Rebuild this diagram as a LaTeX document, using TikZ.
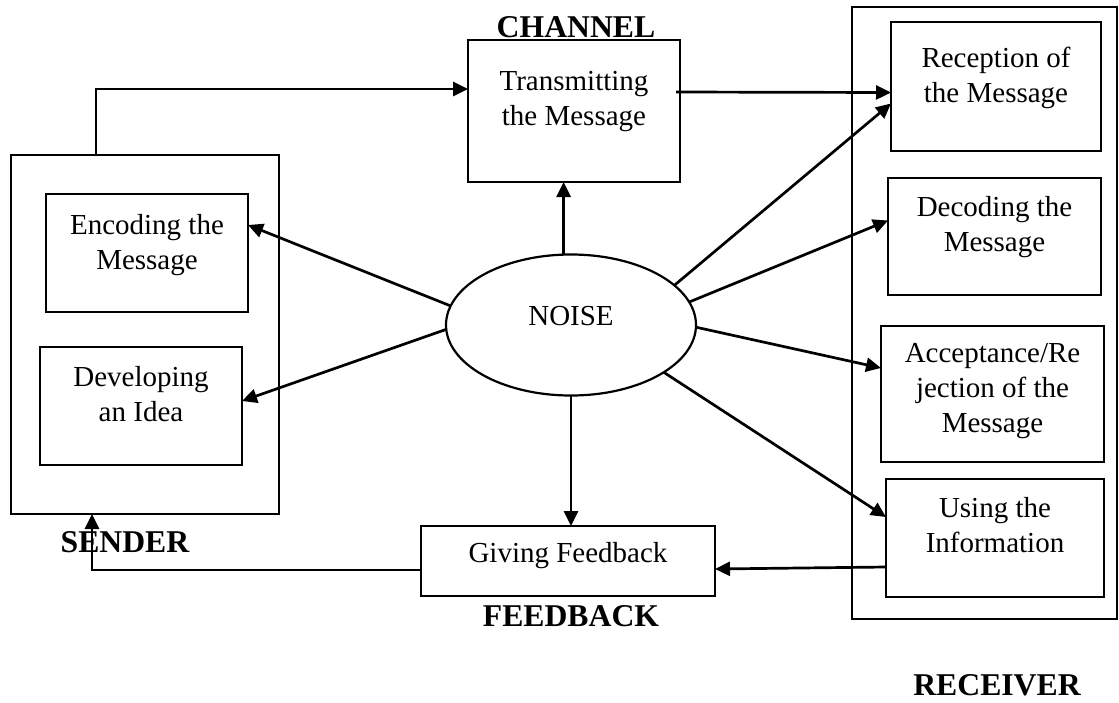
\documentclass[tikz,border=0pt]{standalone}
\usepackage{fontspec}
\setmainfont{Liberation Serif}
\usetikzlibrary{arrows.meta}
\usetikzlibrary{shapes.geometric}
\usetikzlibrary{positioning}
\tikzstyle{stage}=[draw, line width=2.7pt, inner sep=0, outer sep=0]
\tikzstyle{stagetext}=[align=center, anchor=north, inner sep=0, font=\fontsize{29}{35}\selectfont]
\tikzstyle{party}=[anchor=base, inner sep=0, font=\bfseries\fontsize{31.7}{38}\selectfont]
\tikzstyle{flow}=[line width=2.7pt, -{Triangle[length=15pt, width=14pt]}]

\begin{document}
\begin{tikzpicture}[x=1pt, y=-1pt]
        \useasboundingbox (0,0) rectangle (1119,702);
        % sender side
        \node[stage, minimum width=268pt, minimum height=359pt] (sender) at (145,334.5) {};
        \node[stage, minimum width=202pt, minimum height=118pt] (enc) at (147,253) {};
        \node[stagetext, below=20pt of enc.north] (encT) {Encoding the\\Message};
        \node[stage, minimum width=202pt, minimum height=118pt] (dev) at (141,406) {};
        \node[stagetext, below=19pt of dev.north] (devT) {Developing\\an Idea};
        \node[party] (senderL) at (125,552) {SENDER};
        % channel
        \node[stage, minimum width=212pt, minimum height=142pt] (chan) at (574,111) {};
        \node[stagetext, below=31pt of chan.north] (chanT) {Transmitting\\the Message};
        \node[party] (chanL) at (576,37) {CHANNEL};
        % receiver side
        \node[stage, minimum width=265pt, minimum height=612pt] (receiver) at (984.5,313) {};
        \node[stage, minimum width=210pt, minimum height=129pt] (rec) at (996,86.5) {};
        \node[stagetext, below=25pt of rec.north] (recT) {Reception of\\the Message};
        \node[stage, minimum width=213pt, minimum height=117pt] (dec) at (994.5,236.5) {};
        \node[stagetext, below=18pt of dec.north] (decT) {Decoding the\\Message};
        \node[stage, minimum width=223pt, minimum height=136pt] (acc) at (992.5,394) {};
        \node[stagetext, below=17pt of acc.north] (accT) {Acceptance/Re\\jection of the\\Message};
        \node[stage, minimum width=218pt, minimum height=118pt] (use) at (995,538) {};
        \node[stagetext, below=18pt of use.north] (useT) {Using the\\Information};
        \node[party] (receiverL) at (997,695) {RECEIVER};
        % feedback
        \node[stage, minimum width=294pt, minimum height=70pt] (feed) at (568,561) {};
        \node[stagetext, below=16pt of feed.north] (feedT) {Giving Feedback};
        \node[party] (feedL) at (571,626) {FEEDBACK};
        % noise
        \node[draw, ellipse, line width=2.2pt, inner sep=0, outer sep=0, minimum width=250pt, minimum height=141pt] (noise) at (571,325) {};
        \node[stagetext, anchor=base] (noiseT) at (571,325) {NOISE};

        \draw[flow] ([xshift=-49pt]sender.north) |- ([yshift=22pt]chan.west);
        \draw[flow] ([yshift=19pt, xshift=-4pt]chan.east) -- ([yshift=-6pt]rec.west);
        \draw[flow] (noise.96) -- (noise.96 |- chan.south);
        \draw[flow] (noise.171) -- ([yshift=28pt]enc.east);
        \draw[flow] (noise.182) -- ([yshift=5pt]dev.east);
        \draw[flow] (noise.21) -- ([yshift=-17pt]rec.west);
        \draw[flow] (noise.11) -- ([yshift=16pt]dec.west);
        \draw[flow] (noise.359) -- ([yshift=26pt]acc.west);
        \draw[flow] (noise.333) -- ([yshift=21pt]use.west);
        \draw[flow] (noise.south) -- (noise.south |- feed.north);
        \draw[flow] ([yshift=-29pt]use.west) -- ([yshift=-8pt]feed.east);
        \draw[flow] ([yshift=-9pt]feed.west) -| ([xshift=-53pt]sender.south);
    \end{tikzpicture}
\end{document}
